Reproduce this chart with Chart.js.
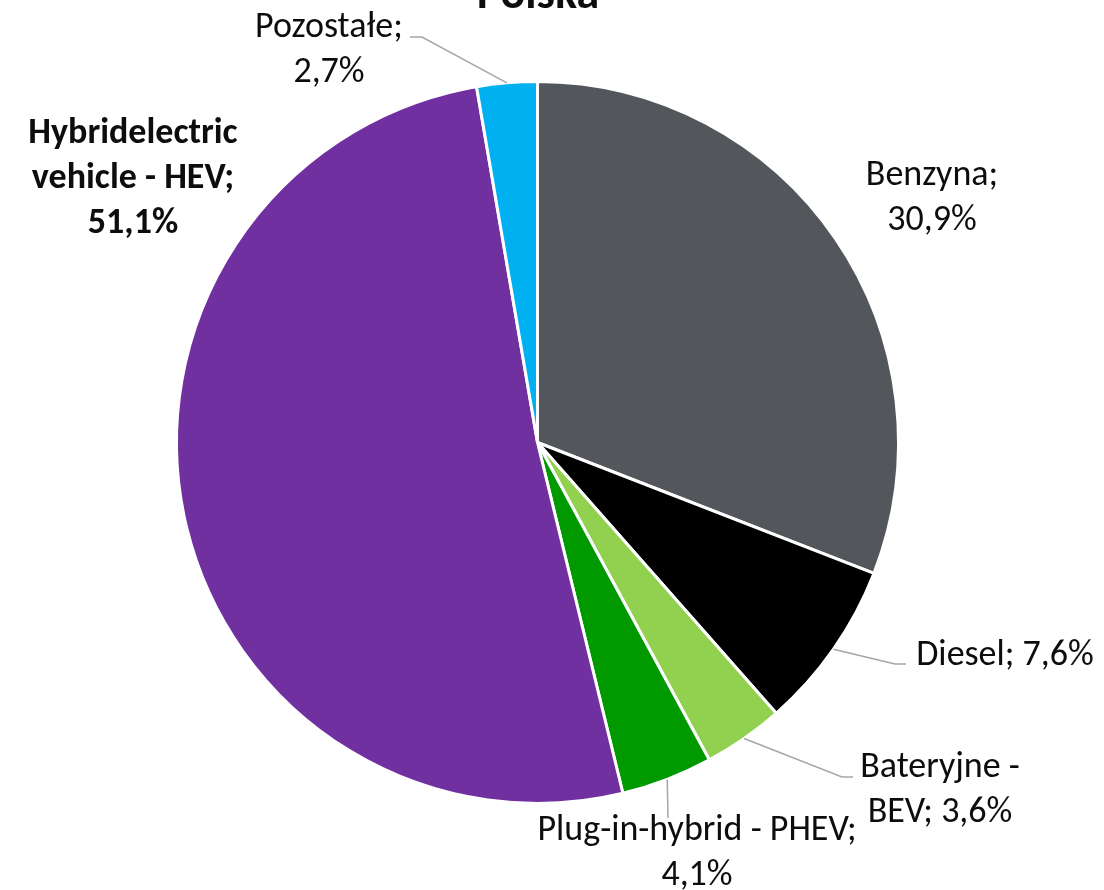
<!DOCTYPE html>
<html>
<head>
<meta charset="utf-8">
<script src="https://cdn.jsdelivr.net/npm/chart.js@4"></script>
<style>
  html, body { margin: 0; padding: 0; background: #fff; }
</style>
</head>
<body>
<canvas id="chart" width="1104" height="890"></canvas>
<script>
const title = "Polska";
const categories = ["Benzyna", "Diesel", "Bateryjne - BEV", "Plug-in-hybrid - PHEV", "Hybridelectric vehicle - HEV", "Pozostałe"];
const shares = [30.9, 7.6, 3.6, 4.1, 51.1, 2.7];
const sliceColors = ["#53565A", "#000000", "#92D050", "#009900", "#7030A0", "#00B0F0"];

// where each data label sits (x = centre of text, y = first baseline) and its leader line bends
const labelLayout = [
  { x: 932, y: 185, maxWidth: 170 },
  { x: 1005, y: 665, maxWidth: 300, leader: [[895, 664], [906, 664]] },
  { x: 940, y: 777, maxWidth: 200, leader: [[842, 777], [853, 777]] },
  { x: 697, y: 840, maxWidth: 360, leader: [[668, 818]] },
  { x: 133, y: 143, maxWidth: 240, bold: true },
  { x: 329, y: 37, maxWidth: 170, leader: [[422, 37], [410, 37]] },
];

const FONT = "Carlito, Calibri, Lato, sans-serif";
const LINE_H = 45;

function fmt(v) {
  return v.toFixed(1).replace(".", ",") + "%";
}

function wrap(ctx, text, maxWidth) {
  const words = text.split(" ");
  const lines = [];
  let cur = "";
  words.forEach(w => {
    const test = cur ? cur + " " + w : w;
    if (cur && ctx.measureText(test).width > maxWidth) {
      lines.push(cur);
      cur = w;
    } else {
      cur = test;
    }
  });
  if (cur) lines.push(cur);
  return lines;
}

const labelPlugin = {
  id: "sliceLabels",
  afterDraw(chart) {
    const ctx = chart.ctx;
    const arcs = chart.getDatasetMeta(0).data;
    ctx.save();

    // leader lines
    ctx.strokeStyle = "#A6A6A6";
    ctx.lineWidth = 1.5;
    arcs.forEach((arc, i) => {
      const lay = labelLayout[i];
      if (!lay.leader) return;
      const p = arc.getProps(["x", "y", "startAngle", "endAngle", "outerRadius"], true);
      const mid = (p.startAngle + p.endAngle) / 2;
      ctx.beginPath();
      ctx.moveTo(p.x + Math.cos(mid) * p.outerRadius, p.y + Math.sin(mid) * p.outerRadius);
      lay.leader.forEach(pt => ctx.lineTo(pt[0], pt[1]));
      ctx.stroke();
    });

    // label text
    ctx.fillStyle = "#0d0d0d";
    ctx.textAlign = "center";
    ctx.textBaseline = "alphabetic";
    categories.forEach((cat, i) => {
      const lay = labelLayout[i];
      ctx.font = lay.bold ? "bold 36px " + FONT : "36px " + FONT;
      const lines = wrap(ctx, cat + "; " + fmt(shares[i]), lay.maxWidth);
      lines.forEach((ln, k) => ctx.fillText(ln, lay.x, lay.y + k * LINE_H));
    });

    // title, mostly cut off by the top edge
    ctx.font = "bold 46px " + FONT;
    ctx.fillText(title, 538, 8);
    ctx.restore();
  },
};

new Chart(document.getElementById("chart"), {
  type: "pie",
  data: {
    labels: categories,
    datasets: [
      {
        data: shares,
        backgroundColor: sliceColors,
        borderColor: "#ffffff",
        borderWidth: 3,
        hoverOffset: 0,
      },
    ],
  },
  options: {
    responsive: false,
    animation: false,
    events: [],
    layout: {
      padding: { left: 175, top: 80, right: 204, bottom: 85 },
    },
    plugins: {
      legend: { display: false },
      tooltip: { enabled: false },
    },
  },
  plugins: [labelPlugin],
});
</script>
</body>
</html>
